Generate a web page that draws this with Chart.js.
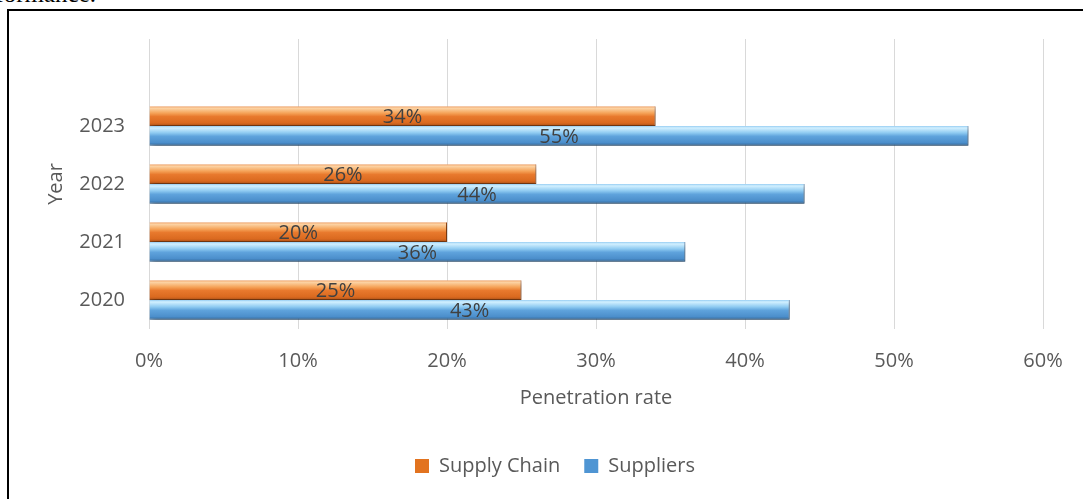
<!DOCTYPE html>
<html>
<head>
<meta charset="utf-8">
<script src="https://cdn.jsdelivr.net/npm/chart.js@4"></script>
<style>
  html, body { margin: 0; padding: 0; background: #fff; overflow: hidden; }
  body { width: 1083px; height: 499px; position: relative; }
  #above { position: absolute; right: calc(1083px - 96px); top: -18px; height: 24px; line-height: 24px;
           font-family: "Liberation Serif", "DejaVu Serif", serif; font-size: 25px; color: #000; white-space: nowrap; }
  #frame { position: absolute; left: 7px; top: 9px; right: -4px; bottom: -4px; border-left: 2px solid #000; border-top: 2px solid #000; }
  #wrap { position: absolute; left: 0; top: 0; width: 1083px; height: 499px; }
</style>
</head>
<body>
<div id="above">performance.</div>
<div id="frame"></div>
<div id="wrap"><canvas id="chart"></canvas></div>
<script>
const years = ['2020', '2021', '2022', '2023'];
const supplyChain = [25, 20, 26, 34];
const suppliers = [43, 36, 44, 55];
const xTicks = [0, 10, 20, 30, 40, 50, 60];

const FONT = '"Open Sans", "Liberation Sans", sans-serif';
const CAT_PCT = 0.68;

const orangeStops = [[0, '#f2a064'], [0.1, '#fcd3a4'], [0.35, '#f5a257'], [0.52, '#e8792d'], [0.85, '#da691f'], [1, '#a64f18']];
const blueStops = [[0, '#96cdf2'], [0.1, '#d2f0ff'], [0.35, '#8ecaf1'], [0.52, '#5fa3dc'], [0.85, '#4b8ecb'], [1, '#2d6294']];

// vertical gradient per bar, worked out from the category scale
function barFill(stops, fallback, slot) {
  return (c) => {
    const chart = c.chart;
    const y = chart.scales && chart.scales.y;
    if (!chart.chartArea || !y || c.type !== 'data') return fallback;
    const center = y.getPixelForValue(c.dataIndex);
    const band = Math.abs(y.getPixelForValue(1) - y.getPixelForValue(0)) * CAT_PCT;
    const top = center - band / 2 + slot * band / 2;
    const g = chart.ctx.createLinearGradient(0, top, 0, top + band / 2);
    stops.forEach(([p, col]) => g.addColorStop(p, col));
    return g;
  };
}

const shadowPlugin = {
  id: 'barShadow',
  beforeDatasetsDraw(chart) {
    const ctx = chart.ctx;
    ctx.save();
    ctx.shadowColor = 'rgba(0, 0, 0, 0.35)';
    ctx.shadowBlur = 5;
    ctx.shadowOffsetX = 2;
    ctx.shadowOffsetY = 3;
  },
  afterDatasetsDraw(chart) {
    chart.ctx.restore();
  },
};

const labelPlugin = {
  id: 'barLabels',
  afterDatasetsDraw(chart) {
    const ctx = chart.ctx;
    ctx.save();
    ctx.font = `20px ${FONT}`;
    ctx.fillStyle = '#404040';
    ctx.textAlign = 'center';
    ctx.textBaseline = 'middle';
    chart.data.datasets.forEach((ds, di) => {
      chart.getDatasetMeta(di).data.forEach((bar, i) => {
        const v = ds.data[i];
        if (v == null) return;
        const p = bar.getCenterPoint();
        ctx.fillText(`${v}%`, p.x, p.y + 1);
      });
    });
    ctx.restore();
  },
};

const labels = years.concat(['']);
const legendColors = ['#e2731f', '#4f95d3'];

new Chart(document.querySelector('#chart'), {
  type: 'bar',
  data: {
    labels,
    datasets: [
      {
        label: 'Supply Chain',
        data: supplyChain.concat([null]),
        backgroundColor: barFill(orangeStops, '#e8792d', 0),
        borderColor: '#9a4a16',
        borderWidth: { top: 0, right: 1, bottom: 1, left: 0 },
        borderSkipped: false,
      },
      {
        label: 'Suppliers',
        data: suppliers.concat([null]),
        backgroundColor: barFill(blueStops, '#5fa3dc', 1),
        borderColor: '#2a5c8c',
        borderWidth: { top: 0, right: 1, bottom: 1, left: 0 },
        borderSkipped: false,
      },
    ],
  },
  options: {
    indexAxis: 'y',
    responsive: true,
    maintainAspectRatio: false,
    animation: false,
    categoryPercentage: CAT_PCT,
    barPercentage: 1,
    layout: { padding: { left: 67, top: 39, right: 40, bottom: 13 } },
    plugins: {
      tooltip: { enabled: false },
      legend: {
        position: 'bottom',
        labels: {
          boxWidth: 14,
          boxHeight: 14,
          padding: 24,
          color: '#595959',
          font: { family: FONT, size: 20 },
          generateLabels: (chart) => Chart.defaults.plugins.legend.labels.generateLabels(chart)
            .map((item, i) => ({ ...item, fillStyle: legendColors[i], strokeStyle: legendColors[i], lineWidth: 0 })),
        },
      },
    },
    scales: {
      x: {
        min: xTicks[0],
        max: xTicks[xTicks.length - 1],
        afterBuildTicks: (s) => { s.ticks = xTicks.map((v) => ({ value: v })); },
        afterFit: (s) => { s.height = 103; },
        ticks: { color: '#595959', font: { family: FONT, size: 20 }, padding: 20, callback: (v) => `${v}%` },
        grid: { color: '#d9d9d9', lineWidth: 1, drawTicks: false },
        border: { display: false },
        title: { display: true, text: 'Penetration rate', color: '#595959', font: { family: FONT, size: 20 }, padding: { top: 0, bottom: 22 } },
      },
      y: {
        reverse: true,
        afterFit: (s) => { s.width = 82; },
        ticks: { color: '#595959', font: { family: FONT, size: 20 }, padding: 24 },
        grid: { display: false, drawTicks: false },
        border: { display: false },
        title: { display: true, text: 'Year', color: '#595959', font: { family: FONT, size: 20 }, padding: { top: -23, bottom: 0 } },
      },
    },
  },
  plugins: [shadowPlugin, labelPlugin],
});
</script>
</body>
</html>
